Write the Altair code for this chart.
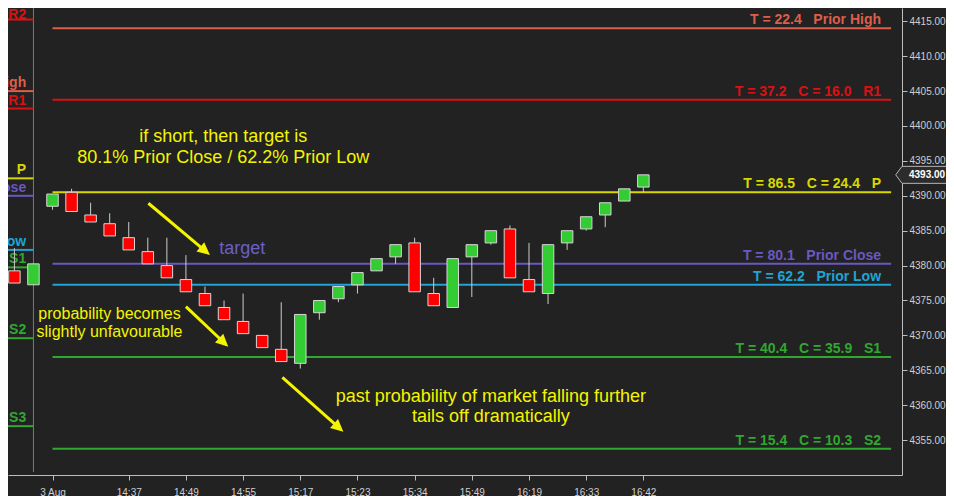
import math
import altair as alt
import pandas as pd

# ---------------- data ----------------
bar_idx = list(range(-2, 32))
opens = [4379.25, 4377.25, 4388.5, 4390.5, 4387.25, 4386.0, 4384.0, 4382.0, 4380.0, 4378.0,
         4376.0, 4374.0, 4372.0, 4370.0, 4368.0, 4366.0, 4373.25, 4375.25, 4377.25, 4379.25,
         4381.25, 4383.25, 4376.0, 4374.0, 4381.25, 4383.25, 4385.25, 4378.0, 4376.0, 4383.25,
         4385.25, 4387.25, 4389.25, 4391.25]
highs = [4382.5, 4380.25, 4390.25, 4391.0, 4389.0, 4387.5, 4386.25, 4384.0, 4384.0, 4381.5,
         4377.0, 4375.0, 4376.0, 4370.0, 4374.75, 4373.0, 4375.0, 4377.0, 4379.0, 4381.0,
         4383.0, 4384.0, 4378.25, 4381.0, 4383.0, 4385.0, 4385.75, 4383.25, 4383.0, 4385.0,
         4387.0, 4389.0, 4391.0, 4393.0]
lows = [4377.5, 4377.25, 4388.0, 4387.75, 4386.25, 4384.25, 4382.25, 4380.25, 4378.25, 4376.25,
        4374.25, 4372.25, 4370.25, 4368.25, 4366.25, 4365.25, 4372.25, 4374.75, 4376.0, 4379.25,
        4380.25, 4376.25, 4374.25, 4374.0, 4375.5, 4383.0, 4378.25, 4376.25, 4374.5, 4382.25,
        4385.0, 4385.5, 4389.25, 4390.5]
closes = [4377.5, 4380.25, 4390.25, 4387.75, 4386.25, 4384.25, 4382.25, 4380.25, 4378.25, 4376.25,
          4374.25, 4372.25, 4370.25, 4368.25, 4366.25, 4373.0, 4375.0, 4377.0, 4379.0, 4381.0,
          4383.0, 4376.25, 4374.25, 4381.0, 4383.0, 4385.0, 4378.25, 4376.25, 4383.0, 4385.0,
          4387.0, 4389.0, 4391.0, 4393.0]

tick_idx = [0, 4, 7, 10, 13, 16, 19, 22, 25, 28, 31]
tick_lbl = ["3 Aug", "14:37", "14:49", "14:55", "15:17", "15:23", "15:34", "15:49", "16:19", "16:33", "16:42"]
price_ticks = [4355, 4360, 4365, 4370, 4375, 4380, 4385, 4390, 4395, 4400, 4405, 4410, 4415]

session_break = -1
day_line_end = 44

SP = "\u00a0\u00a0\u00a0"
lvl_keys = ["PH", "R1", "P", "PC", "PL", "S1", "S2"]
lvl_vals = [4414.0, 4403.75, 4390.5, 4380.25, 4377.25, 4366.9, 4353.75]
lvl_text = ["T = 22.4" + SP + "Prior High",
            "T = 37.2" + SP + "C = 16.0" + SP + "R1",
            "T = 86.5" + SP + "C = 24.4" + SP + "P",
            "T = 80.1" + SP + "Prior Close",
            "T = 62.2" + SP + "Prior Low",
            "T = 40.4" + SP + "C = 35.9" + SP + "S1",
            "T = 15.4" + SP + "C = 10.3" + SP + "S2"]

prev_keys = ["R2", "PH", "R1", "P", "PC", "PL", "S1", "S2", "S3"]
prev_vals = [4415.25, 4405.0, 4402.5, 4392.5, 4390.0, 4382.25, 4379.75, 4369.6, 4357.0]
prev_text = ["R2", "Prior High", "R1", "P", "Prior Close", "Prior Low", "S1", "S2", "S3"]

key_domain = ["R2", "PH", "R1", "P", "PC", "PL", "S1", "S2", "S3"]
key_range = ["#d81212", "#dd5e4a", "#d81212", "#d8d800", "#6a58c0", "#1ea4d6", "#30a830", "#30a830", "#30a830"]

note1 = ["if short, then target is", "80.1% Prior Close / 62.2% Prior Low"]
note2 = ["probability becomes", "slightly unfavourable"]
note3 = ["past probability of market falling further", "tails off dramatically"]
note_target = "target"

arrow_x1 = [5.03, 7.0, 12.06]
arrow_y1 = [4388.93, 4374.11, 4364.0]
arrow_x2 = [8.26, 9.22, 15.26]
arrow_y2 = [4381.52, 4368.38, 4356.2]

# ---------------- layout ----------------
W, H = 894, 467
XMIN, XMAX = -2.335, 44.57
YMIN, YMAX = 4350.0, 4416.905
sx = W / (XMAX - XMIN)
sy = H / (YMAX - YMIN)

BG = "#222222"
AXC = "#bdbdbd"
LBL = "#cfcfcf"
YEL = "#f4f400"
FONT = "Liberation Sans"

xs = alt.Scale(domain=[XMIN, XMAX], nice=False, zero=False, padding=0)
ys = alt.Scale(domain=[YMIN, YMAX], nice=False, zero=False, padding=0)
cs = alt.Scale(domain=key_domain, range=key_range)

label_expr = " : ".join(f"datum.value == {i} ? '{l}'" for i, l in zip(tick_idx, tick_lbl)) + " : ''"
xaxis = alt.Axis(values=tick_idx, labelExpr=label_expr, title=None, grid=False, tickSize=5,
                 labelPadding=7, domainColor=AXC, tickColor=AXC, labelColor=LBL, labelFont=FONT,
                 labelFontSize=10, labelOverlap=False)
yaxis = alt.Axis(orient="right", values=price_ticks, format=".2f", title=None, grid=False, tickSize=5,
                 labelPadding=2, domainColor=AXC, tickColor=AXC, labelColor=LBL, labelFont=FONT,
                 labelFontSize=10, labelOverlap=False)


def X(f):
    return alt.X(f, scale=xs, axis=xaxis)


def Y(f):
    return alt.Y(f, scale=ys, axis=yaxis)


candles = pd.DataFrame({"i": bar_idx, "open": opens, "high": highs, "low": lows, "close": closes})


def level_frame(keys, vals, texts, x0, x1):
    df = pd.DataFrame({"key": keys, "value": vals, "label": texts})
    df["x0"] = x0
    df["x1"] = x1
    # label baseline 4px above its line, kept inside the top edge
    df["ly"] = [min(v + 4 / sy, YMAX - 10.8 / sy) for v in vals]
    return df


main_lv = level_frame(lvl_keys, lvl_vals, lvl_text, 0, day_line_end)
main_lv["lx"] = day_line_end - 0.53
prev_lv = level_frame(prev_keys, prev_vals, prev_text, XMIN, session_break)
prev_lv["lx"] = session_break - 0.38

# arrows
rows = []
for x1, y1, x2, y2 in zip(arrow_x1, arrow_y1, arrow_x2, arrow_y2):
    dxp = (x2 - x1) * sx
    dyp = -(y2 - y1) * sy
    ln = math.hypot(dxp, dyp)
    ux, uy = dxp / ln, dyp / ln
    xb = x2 - 9 * ux / sx
    yb = y2 + 9 * uy / sy
    ang = math.degrees(math.atan2(dxp, -dyp)) % 360
    rows.append({"x1": x1, "y1": y1, "xb": xb, "yb": yb, "x2": x2, "y2": y2, "angle": ang})
arrows = pd.DataFrame(rows)

# ---------------- layers ----------------
sep = alt.Chart(pd.DataFrame({"x": [session_break]})).mark_rule(color="#7a7a7a", strokeWidth=1).encode(
    x=X("x:Q"), y=alt.value(0), y2=alt.value(H - 3))


def level_layers(df):
    lines = alt.Chart(df).mark_rule(strokeWidth=2).encode(
        x=X("x0:Q"), x2="x1:Q", y=Y("value:Q"),
        color=alt.Color("key:N", scale=cs, legend=None))
    texts = alt.Chart(df).mark_text(align="right", baseline="alphabetic", fontWeight="bold",
                                    fontSize=14, font=FONT).encode(
        x=X("lx:Q"), y=Y("ly:Q"), text="label:N",
        color=alt.Color("key:N", scale=cs, legend=None))
    return lines + texts


wicks = alt.Chart(candles).mark_rule(color="#cccccc", strokeWidth=1).encode(
    x=X("i:Q"), y=Y("low:Q"), y2="high:Q")

bodies = alt.Chart(candles).mark_bar(size=11.5, stroke="#d6d6d6", strokeWidth=1, orient="vertical").encode(
    x=X("i:Q"), y=Y("open:Q"), y2="close:Q",
    fill=alt.condition("datum.close >= datum.open", alt.value("#33cc33"), alt.value("#ff0000")))


def note(lines, x, y, size, lh, color, align="center"):
    return alt.Chart(pd.DataFrame({"x": [x], "y": [y]})).mark_text(
        text=lines, align=align, baseline="alphabetic", fontSize=size, lineHeight=lh,
        font=FONT, color=color).encode(x=X("x:Q"), y=Y("y:Q"))


n1 = note(note1, 8.96, 4397.7, 18, 21, YEL)
n2 = note(note2, 2.99, 4372.35, 16, 18, YEL)
n3 = note(note3, 23.0, 4360.4, 18, 20, YEL)
nt = note(note_target, 8.75, 4381.62, 18, 20, "#6b5fc8", align="left")

shafts = alt.Chart(arrows).mark_rule(color=YEL, strokeWidth=3).encode(
    x=X("x1:Q"), y=Y("y1:Q"), x2="xb:Q", y2="yb:Q")
heads = alt.Chart(arrows).mark_point(shape="M0,0L0.6,1.25L-0.6,1.25Z", filled=True, size=400,
                                     color=YEL, opacity=1, strokeWidth=0).encode(
    x=X("x2:Q"), y=Y("y2:Q"), angle=alt.Angle("angle:Q", scale=None))

last = candles.tail(1)
tag = alt.Chart(last).mark_point(shape="M-0.63,0L0,-0.85L6,-0.85L6,0.85L0,0.85Z", filled=True, size=400,
                                 fill="#2c2c2c", stroke="#b5b5b5", strokeWidth=1, opacity=1).encode(
    x=alt.value(W), y=Y("close:Q"))
tag_text = alt.Chart(last).mark_text(align="left", baseline="middle", dx=7, fontSize=10, font=FONT,
                                     fontWeight="bold", color="#ffffff").encode(
    x=alt.value(W), y=Y("close:Q"), text=alt.Text("close:Q", format=".2f"))

chart = alt.layer(
    sep, level_layers(prev_lv), level_layers(main_lv), wicks, bodies,
    n1, n2, n3, nt, shafts, heads, tag, tag_text
).properties(
    width=W, height=H,
    padding={"left": 0, "top": 0, "right": 44, "bottom": 21},
    autosize=alt.AutoSizeParams(type="none"),
).configure(background=BG).configure_view(strokeWidth=0)

chart.save("out.html", embed_options={"renderer": "svg", "actions": False})
